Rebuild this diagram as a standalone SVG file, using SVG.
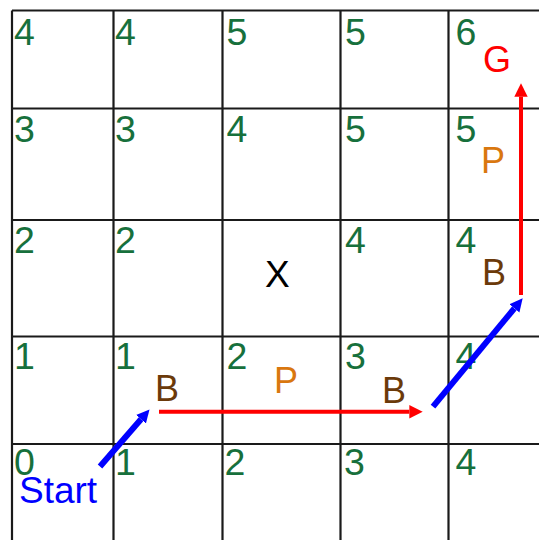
<svg xmlns="http://www.w3.org/2000/svg" width="539" height="540" viewBox="0 0 539 540">
<defs>
<style>
.grid{stroke:#1a1a1a;stroke-width:2.2;fill:none}
.num{font-family:"Liberation Sans",Arial,sans-serif;font-size:37.5px;fill:#17703c}
.lbl{font-family:"Liberation Sans",Arial,sans-serif;font-size:36px}
.red{stroke:#ff0000;stroke-width:4;fill:none}
.blue{stroke:#0000ff;stroke-width:6;fill:none}
</style>
<marker id="hr" markerUnits="userSpaceOnUse" markerWidth="14" markerHeight="14" viewBox="0 -7 14 14" refX="0" refY="0" orient="auto"><path d="M0,-6.7 L13.4,0 L0,6.7 Z" fill="#ff0000"/></marker>
<marker id="hb" markerUnits="userSpaceOnUse" markerWidth="14" markerHeight="14" viewBox="0 -7 14 14" refX="0" refY="0" orient="auto"><path d="M0,-6.5 L13,0 L0,6.5 Z" fill="#0000ff"/></marker>
</defs>
<rect width="539" height="540" fill="#ffffff"/>
<g id="grid" class="grid">
<path d="M12,10.5 V545 M113.5,10.5 V545 M222.5,10.5 V545 M340.5,10.5 V545 M448.5,10.5 V545"/>
<path d="M12,10.5 H545 M12,108.5 H545 M12,220 H545 M12,336.5 H545 M12,444 H545"/>
</g>
<g id="numbers">
<g id="r1"><text class="num" x="14" y="45">4</text><text class="num" x="115" y="45">4</text><text class="num" x="226.5" y="45">5</text><text class="num" x="345" y="45">5</text><text class="num" x="455.5" y="45">6</text></g>
<g id="r2"><text class="num" x="14" y="142">3</text><text class="num" x="115" y="142">3</text><text class="num" x="226.5" y="142">4</text><text class="num" x="345" y="142">5</text><text class="num" x="455.5" y="142">5</text></g>
<g id="r3"><text class="num" x="14" y="253">2</text><text class="num" x="115" y="253">2</text><text class="num" x="345" y="253">4</text><text class="num" x="455.5" y="253">4</text></g>
<g id="r4"><text class="num" x="14" y="369">1</text><text class="num" x="115" y="369">1</text><text class="num" x="226.5" y="369">2</text><text class="num" x="345" y="369">3</text><text class="num" x="455.5" y="369">4</text></g>
<g id="r5"><text class="num" x="14" y="475">0</text><text class="num" x="115" y="475">1</text><text class="num" x="224.5" y="475">2</text><text class="num" x="344" y="475">3</text><text class="num" x="455.5" y="475">4</text></g>
</g>
<g id="labels">
<text id="goal" class="lbl" x="483" y="71.7" fill="#ff0000">G</text>
<text id="p1" class="lbl" x="481" y="172.7" fill="#d9770f">P</text>
<text id="b1" class="lbl" x="482" y="285" fill="#6b3a0a">B</text>
<text id="x" class="lbl" x="265" y="286.5" fill="#000000" style="font-size:37px">X</text>
<text id="b2" class="lbl" x="155" y="401" fill="#6b3a0a">B</text>
<text id="p2" class="lbl" x="274" y="393" fill="#d9770f">P</text>
<text id="b3" class="lbl" x="382" y="402.5" fill="#6b3a0a">B</text>
<text id="start" class="lbl" x="19" y="503" fill="#0000ff" style="font-size:37px">Start</text>
</g>
<g id="connectors">
<path class="blue" d="M100,466.5 L141,419.3" marker-end="url(#hb)"/>
<path class="red" d="M159,411.7 H409.3" marker-end="url(#hr)"/>
<path class="blue" d="M433,406.7 L514.4,308.3" marker-end="url(#hb)"/>
<path class="red" d="M521,295 V96.7" marker-end="url(#hr)"/>
</g>
</svg>
